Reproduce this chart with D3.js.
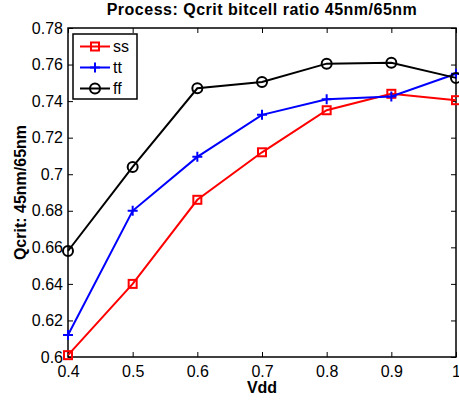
<!DOCTYPE html>
<html>
<head>
<meta charset="utf-8">
<script src="https://cdn.jsdelivr.net/npm/d3@7"></script>
<style>
  body { margin: 0; background: #fff; }
  text { font-family: "Liberation Sans", Arial, Helvetica, sans-serif; }
</style>
</head>
<body>
<div id="chart"></div>
<script>
// Data
const vdd = [0.4, 0.5, 0.6, 0.7, 0.8, 0.9, 1.0];
const ss = [0.601, 0.640, 0.686, 0.712, 0.735, 0.744, 0.7405];
const tt = [0.612, 0.680, 0.7095, 0.7325, 0.741, 0.7425, 0.755];
const ff = [0.658, 0.704, 0.747, 0.7505, 0.7605, 0.761, 0.7527];
const xTicks = [0.4, 0.5, 0.6, 0.7, 0.8, 0.9, 1];
const yTicks = [0.6, 0.62, 0.64, 0.66, 0.68, 0.7, 0.72, 0.74, 0.76, 0.78];

const series = [
    { name: 'ss', values: ss, color: '#ff0000', marker: 'square' },
    { name: 'tt', values: tt, color: '#0000ff', marker: 'plus' },
    { name: 'ff', values: ff, color: '#000000', marker: 'circle' }
];

const width = 459, height = 402;
const margin = { top: 28, right: 3, bottom: 45, left: 68 };
const plotW = width - margin.left - margin.right;
const plotH = height - margin.top - margin.bottom;

const svg = d3.select('#chart').append('svg')
    .attr('width', width)
    .attr('height', height);

const x = d3.scaleLinear().domain([0.4, 1]).range([0, plotW]);
const y = d3.scaleLinear().domain([0.6, 0.78]).range([plotH, 0]);

const g = svg.append('g')
    .attr('transform', `translate(${margin.left},${margin.top})`);

// Axes with inward ticks (matlab style), mirrored on top and right
function styleAxis(sel) {
    sel.select('.domain').remove();
    sel.selectAll('line').attr('stroke', '#000').attr('stroke-width', 1);
    sel.selectAll('text').attr('fill', '#000').style('font-size', '16px');
}

g.append('g')
    .attr('transform', `translate(0,${plotH})`)
    .call(d3.axisBottom(x).tickValues(xTicks).tickFormat(d3.format('')).tickSize(-5).tickPadding(9))
    .call(styleAxis);

g.append('g')
    .call(d3.axisTop(x).tickValues(xTicks).tickFormat('').tickSize(-5))
    .call(styleAxis);

g.append('g')
    .call(d3.axisLeft(y).tickValues(yTicks).tickFormat(d3.format('')).tickSize(-5).tickPadding(5))
    .call(styleAxis);

g.append('g')
    .attr('transform', `translate(${plotW},0)`)
    .call(d3.axisRight(y).tickValues(yTicks).tickFormat('').tickSize(-5))
    .call(styleAxis);

g.append('rect')
    .attr('width', plotW)
    .attr('height', plotH)
    .attr('fill', 'none')
    .attr('stroke', '#000')
    .attr('stroke-width', 1.5);

// Markers
function drawMarker(sel, type, color) {
    if (type === 'square') {
        sel.append('rect')
            .attr('x', -4).attr('y', -4).attr('width', 8).attr('height', 8)
            .attr('fill', 'none').attr('stroke', color).attr('stroke-width', 2);
    } else if (type === 'plus') {
        sel.append('path')
            .attr('d', 'M-5,0H5M0,-5V5')
            .attr('stroke', color).attr('stroke-width', 2);
    } else {
        sel.append('circle')
            .attr('r', 5)
            .attr('fill', 'none').attr('stroke', color).attr('stroke-width', 2);
    }
}

const line = d3.line()
    .x(d => x(d[0]))
    .y(d => y(d[1]));

series.forEach(s => {
    const pts = vdd.map((v, i) => [v, s.values[i]]);
    g.append('path')
        .datum(pts)
        .attr('d', line)
        .attr('fill', 'none')
        .attr('stroke', s.color)
        .attr('stroke-width', 2);
    pts.forEach(p => {
        const m = g.append('g').attr('transform', `translate(${x(p[0])},${y(p[1])})`);
        drawMarker(m, s.marker, s.color);
    });
});

// Legend
const legend = svg.append('g').attr('transform', 'translate(73,34)');
legend.append('rect')
    .attr('width', 64).attr('height', 65)
    .attr('fill', '#fff').attr('stroke', '#000').attr('stroke-width', 1.5);

series.forEach((s, i) => {
    const row = legend.append('g').attr('transform', `translate(0,${12.5 + i * 21})`);
    row.append('line')
        .attr('x1', 7).attr('x2', 37)
        .attr('stroke', s.color).attr('stroke-width', 2);
    drawMarker(row.append('g').attr('transform', 'translate(22,0)'), s.marker, s.color);
    row.append('text')
        .attr('x', 40).attr('dy', '0.35em')
        .style('font-size', '16px')
        .text(s.name);
});

// Titles
svg.append('text')
    .attr('x', margin.left + plotW / 2)
    .attr('y', 15)
    .attr('text-anchor', 'middle')
    .style('font-size', '16px')
    .style('letter-spacing', '0.5px')
    .style('font-weight', 'bold')
    .text('Process: Qcrit bitcell ratio 45nm/65nm');

svg.append('text')
    .attr('x', margin.left + plotW / 2)
    .attr('y', 393)
    .attr('text-anchor', 'middle')
    .style('font-size', '16px')
    .style('font-weight', 'bold')
    .text('Vdd');

svg.append('text')
    .attr('transform', `translate(26,${margin.top + plotH / 2}) rotate(-90)`)
    .attr('text-anchor', 'middle')
    .style('font-size', '16px')
    .style('font-weight', 'bold')
    .text('Qcrit: 45nm/65nm');
</script>
</body>
</html>
